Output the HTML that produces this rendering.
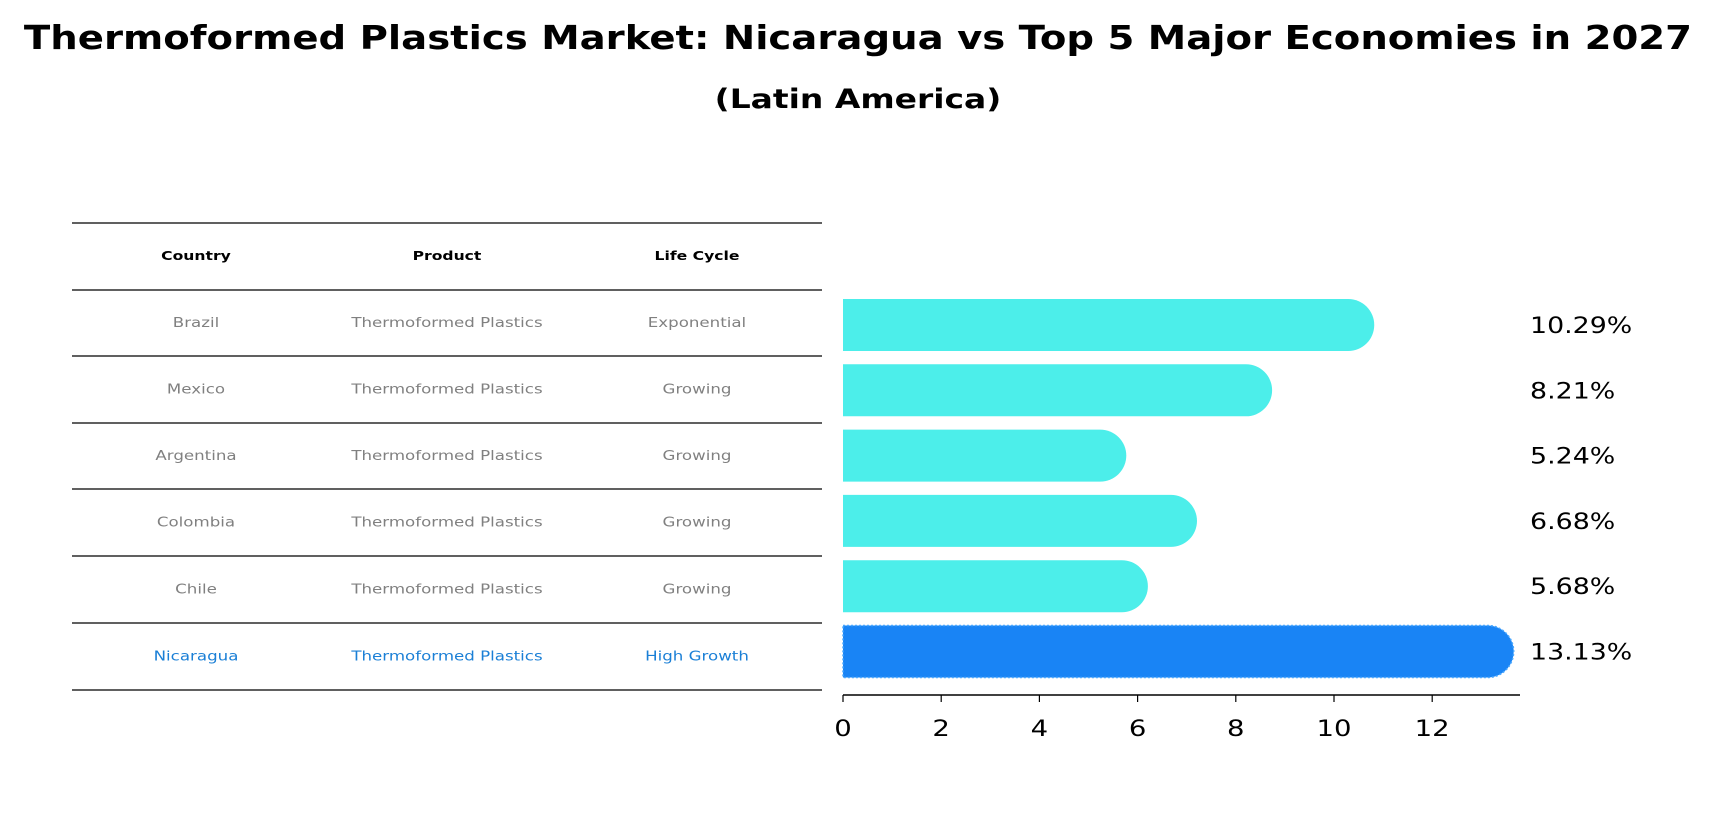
<!DOCTYPE html>
<html><head><meta charset="utf-8"><style>
body{margin:0;background:#fff;font-family:"DejaVu Sans","Liberation Sans",sans-serif;}
svg{display:block}
</style></head><body>
<svg width="1717" height="823" id="chart">
<text id="ttl" x="858" y="49" text-anchor="middle" font-size="33" font-weight="bold">Thermoformed Plastics Market: Nicaragua vs Top 5 Major Economies in 2027</text>
<text id="sub" x="858" y="108" text-anchor="middle" font-size="27" font-weight="bold">(Latin America)</text>
<g id="table"></g>
<g id="bars"></g>
</svg>
<script>
const countries=["Brazil","Mexico","Argentina","Colombia","Chile","Nicaragua"];
const products=["Thermoformed Plastics","Thermoformed Plastics","Thermoformed Plastics","Thermoformed Plastics","Thermoformed Plastics","Thermoformed Plastics"];
const lifeCycles=["Exponential","Growing","Growing","Growing","Growing","High Growth"];
const values=[10.29,8.21,5.24,6.68,5.68,13.13];
const ticks=[0,2,4,6,8,10,12];
const NS="http://www.w3.org/2000/svg";
function mk(tag,attrs,parent,text){const e=document.createElementNS(NS,tag);for(const k in attrs)e.setAttribute(k,attrs[k]);if(text!==undefined)e.textContent=text;parent.appendChild(e);return e;}
function stretch(e,f){const w=e.getComputedTextLength();e.setAttribute('textLength',(w*f).toFixed(1));e.setAttribute('lengthAdjust','spacingAndGlyphs');}
const tbl=document.getElementById('table');
const lineYs=[223,290,356,423,489,556,623,690];
const colX=[196,447,697];
lineYs.forEach((y,i)=>{const l=mk('line',{x1:72,x2:822,y1:y,y2:y,stroke:'#000','stroke-width':1.2},tbl);

});
["Country","Product","Life Cycle"].forEach((h,i)=>{const t=mk('text',{x:colX[i],y:260,'text-anchor':'middle','font-size':12,'font-weight':'bold'},tbl,h);


stretch(t,1.3);});
countries.forEach((c,i)=>{const y=(lineYs[i+1]+lineYs[i+2])/2+4;const col=i===countries.length-1?'#1a7fd6':'#808080';
[c,products[i],lifeCycles[i]].forEach((v,j)=>{const t=mk('text',{x:colX[j],y:y,'text-anchor':'middle','font-size':13,fill:col},tbl,v);


stretch(t,1.28);});});
const bars=document.getElementById('bars');
const x0=843,unit=49.1;
const X=v=>x0+v*unit;
const Y=i=>325+i*65.3;
const bh=52;
values.forEach((v,i)=>{const last=i===values.length-1;const fill=last?'#1984f5':'#4ceeea';
const r=bh/2,cy=Y(i);
const p=mk('path',{d:`M${X(0)} ${cy-r} H${X(v)} A${r} ${r} 0 0 1 ${X(v)} ${cy+r} H${X(0)} Z`,fill:fill},bars);
if(last){p.setAttribute('stroke','#4aa8ff');p.setAttribute('stroke-dasharray','2 2');p.setAttribute('stroke-width','1.5');}


const t=mk('text',{x:1530,y:cy+8,'font-size':22},bars,v.toFixed(2)+'%');


stretch(t,1.22);});
const ax=mk('line',{x1:X(0),x2:1520,y1:695,y2:695,stroke:'#000','stroke-width':1.5},bars);


ticks.forEach(t=>{const l=mk('line',{x1:X(t),x2:X(t),y1:695,y2:702,stroke:'#000','stroke-width':1.2},bars);


const tx=mk('text',{x:X(t),y:736,'text-anchor':'middle','font-size':22},bars,String(t));


stretch(tx,1.25);});
stretch(document.getElementById('ttl'),1.17);
stretch(document.getElementById('sub'),1.22);
</script>
</body></html>
